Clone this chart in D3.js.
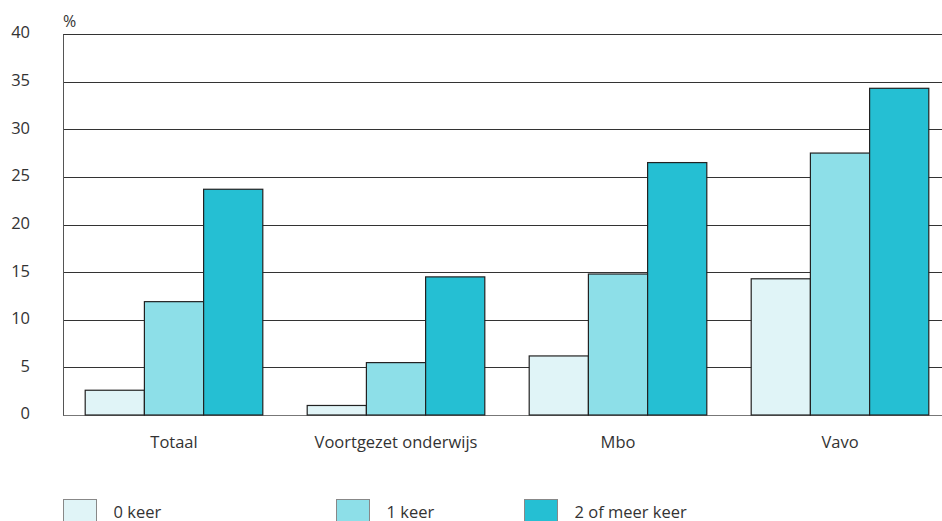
<!DOCTYPE html>
<html>
<head>
<meta charset="utf-8">
<script src="https://cdn.jsdelivr.net/npm/d3@7"></script>
<style>
  html, body { margin: 0; padding: 0; background: #fff; }
  svg { display: block; }
  text { font-family: "Open Sans", sans-serif; fill: #333; }
</style>
</head>
<body>
<svg id="chart" width="942" height="521"></svg>
<script>
const categories = ["Totaal", "Voortgezet onderwijs", "Mbo", "Vavo"];
const seriesNames = ["0 keer", "1 keer", "2 of meer keer"];
const values0 = [2.6, 1.0, 6.2, 14.3];
const values1 = [11.9, 5.5, 14.8, 27.5];
const values2 = [23.7, 14.5, 26.5, 34.3];
const yTicks = [0, 5, 10, 15, 20, 25, 30, 35, 40];
const colors = ["#e0f4f7", "#8ddfe8", "#25bfd3"];

const series = [values0, values1, values2];

const svg = d3.select("#chart");
const mLeft = 63, mRight = 951, mTop = 34, mBottom = 415;

const x0 = d3.scaleBand().domain(categories).range([mLeft, mRight])
  .paddingInner(0.2).paddingOuter(0.1);
const x1 = d3.scaleBand().domain(seriesNames).range([0, x0.bandwidth()]);
const y = d3.scaleLinear().domain([0, 40]).range([mBottom, mTop]);

// gridlines
svg.append("g").selectAll("line").data(yTicks).join("line")
  .attr("x1", mLeft).attr("x2", 942)
  .attr("y1", d => Math.round(y(d)) + 0.5).attr("y2", d => Math.round(y(d)) + 0.5)
  .attr("stroke", d => d === 0 ? "#777" : "#333").attr("stroke-width", 1);

// y axis line
svg.append("line").attr("x1", mLeft + 0.5).attr("x2", mLeft + 0.5)
  .attr("y1", Math.round(y(40)) + 0.5).attr("y2", Math.round(y(0)) + 0.5)
  .attr("stroke", "#555");

// y labels
svg.append("g").selectAll("text").data(yTicks).join("text")
  .attr("x", 30).attr("y", d => y(d))
  .attr("text-anchor", "end").attr("dominant-baseline", "middle")
  .style("font-size", "16.5px").text(d => d);

svg.append("text").attr("x", 63).attr("y", 27)
  .style("font-size", "16px").text("%");

// bars
const groups = svg.append("g").selectAll("g").data(categories).join("g")
  .attr("transform", d => `translate(${x0(d)},0)`);
groups.selectAll("rect")
  .data((c, ci) => seriesNames.map((s, si) => ({ s, si, v: series[si][ci] })))
  .join("rect")
  .attr("x", d => x1(d.s)).attr("width", x1.bandwidth())
  .attr("y", d => y(d.v)).attr("height", d => y(0) - y(d.v))
  .attr("fill", d => colors[d.si])
  .attr("stroke", "#222").attr("stroke-width", 1.2);

// x labels
svg.append("g").selectAll("text").data(categories).join("text")
  .attr("x", d => x0(d) + x0.bandwidth() / 2).attr("y", 448)
  .attr("text-anchor", "middle").style("font-size", "16.5px").text(d => d);

// legend
const legendX = [63.5, 336.5, 524.5];
const leg = svg.append("g").selectAll("g").data(seriesNames).join("g")
  .attr("transform", (d, i) => `translate(${legendX[i]},499.5)`);
leg.append("rect").attr("width", 33).attr("height", 22)
  .attr("fill", (d, i) => colors[i]).attr("stroke", "#888");
leg.append("text").attr("x", 50).attr("y", 18)
  .style("font-size", "16.5px").text(d => d);
</script>
</body>
</html>
